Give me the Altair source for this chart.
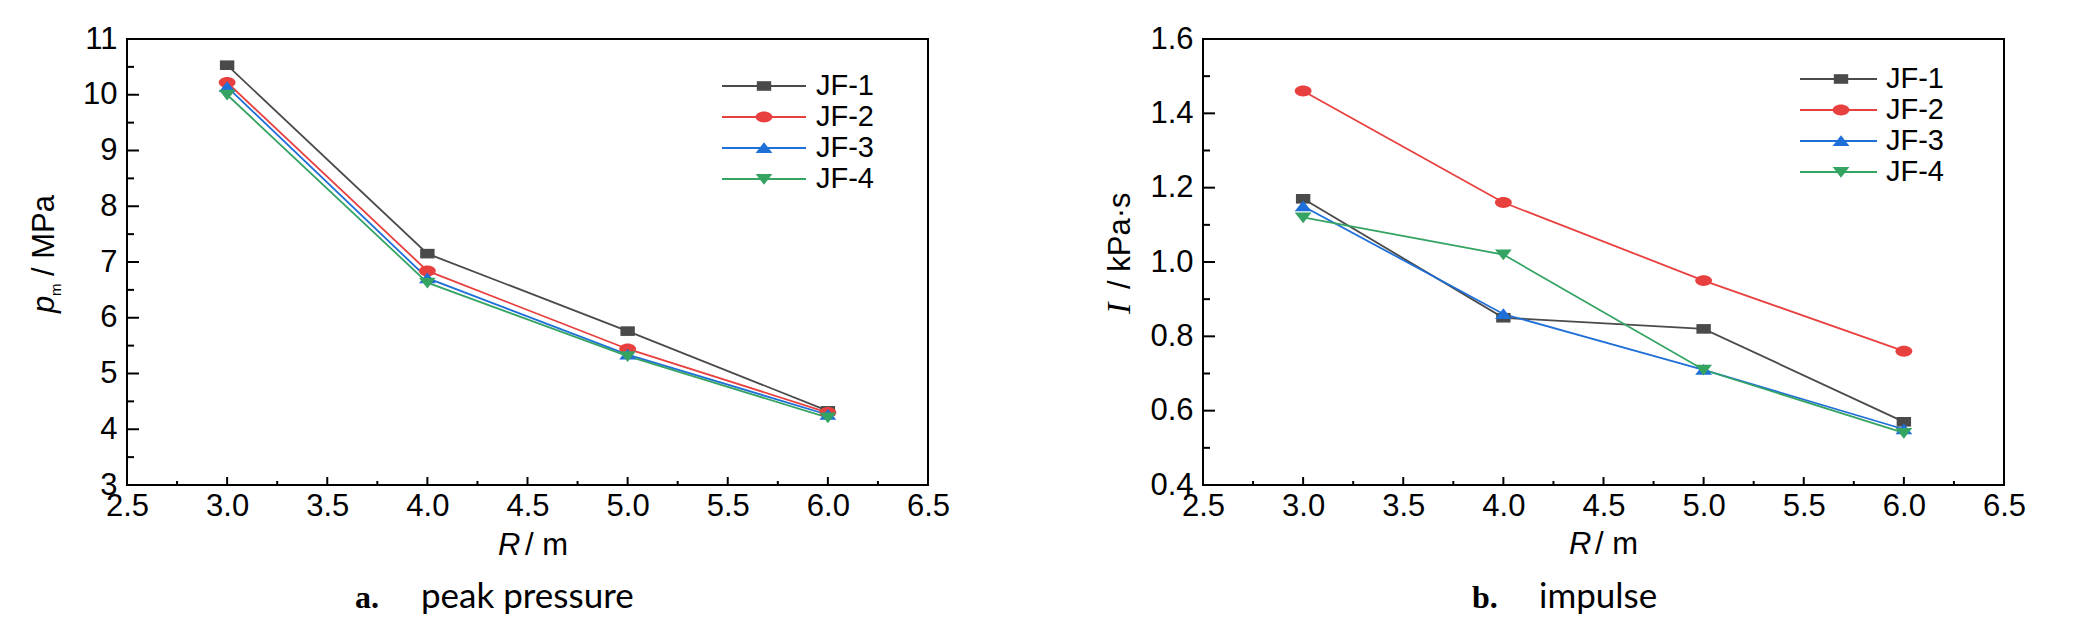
import json
import altair as alt
import pandas as pd

# ---------------- data ----------------
R_m = [3.0, 4.0, 5.0, 6.0]
series_names = ["JF-1", "JF-2", "JF-3", "JF-4"]

# peak pressure p_m / MPa
pm_jf1 = [10.53, 7.15, 5.76, 4.33]
pm_jf2 = [10.22, 6.84, 5.44, 4.30]
pm_jf3 = [10.14, 6.71, 5.34, 4.26]
pm_jf4 = [10.00, 6.63, 5.31, 4.21]

# impulse I / kPa·s
imp_jf1 = [1.17, 0.85, 0.82, 0.57]
imp_jf2 = [1.46, 1.16, 0.95, 0.76]
imp_jf3 = [1.15, 0.86, 0.71, 0.55]
imp_jf4 = [1.12, 1.02, 0.71, 0.54]

# tick labels
x_major = [2.5, 3.0, 3.5, 4.0, 4.5, 5.0, 5.5, 6.0, 6.5]
x_minor = [2.75, 3.25, 3.75, 4.25, 4.75, 5.25, 5.75, 6.25]
pm_major = [3, 4, 5, 6, 7, 8, 9, 10, 11]
pm_minor = [3.5, 4.5, 5.5, 6.5, 7.5, 8.5, 9.5, 10.5]
imp_major = [0.4, 0.6, 0.8, 1.0, 1.2, 1.4, 1.6]
imp_minor = [0.5, 0.7, 0.9, 1.1, 1.3, 1.5]

# ---------------- styles ----------------
colors = ["#4a4a4a", "#e8403f", "#1f6fd8", "#35a463"]
shapes = [
    "M-0.9,-0.6H0.9V0.6H-0.9Z",
    "M-1.05,0A1.05,0.68 0 1,1 1.05,0A1.05,0.68 0 1,1 -1.05,0Z",
    "M0,-0.72L1.05,0.62L-1.05,0.62Z",
    "M0,0.72L1.05,-0.62L-1.05,-0.62Z",
]
NARROW = "Liberation Sans Narrow, Arial Narrow, Liberation Sans, sans-serif"
W, H = 801, 446
MSIZE = 256

color_enc = alt.Color("series:N", scale=alt.Scale(domain=series_names, range=colors), legend=None)
shape_enc = alt.Shape("series:N", scale=alt.Scale(domain=series_names, range=shapes), legend=None)


def long_df(cols):
    rows = []
    for s, vals in zip(series_names, cols):
        for r, v in zip(R_m, vals):
            rows.append({"R": r, "v": v, "series": s})
    return pd.DataFrame(rows)


def txt(s, x, y, size=31, font=NARROW, style="normal", weight="normal", angle=0,
        align="left", baseline="alphabetic"):
    return alt.Chart(pd.DataFrame({"t": [s]})).mark_text(
        align=align, baseline=baseline, fontSize=size, font=font, fontStyle=style,
        fontWeight=weight, angle=angle, color="black"
    ).encode(x=alt.value(x), y=alt.value(y), text="t:N")


def panel(cols, ydom, ymaj, ymin, yfmt, leg_y0, leg_dy, leg_x, extra):
    df = long_df(cols)
    common = dict(title=None, ticks=False, tickSize=0, domain=False, grid=False,
                  labelOverlap=False, labelFlush=False, labelFontSize=31,
                  labelFont=NARROW, labelColor="black")
    X = alt.X("R:Q", scale=alt.Scale(domain=[2.5, 6.5], nice=False, zero=False),
              axis=alt.Axis(values=x_major, format=".1f", labelPadding=6, **common))
    Y = alt.Y("v:Q", scale=alt.Scale(domain=ydom, nice=False, zero=False),
              axis=alt.Axis(values=ymaj, format=yfmt, labelPadding=10, **common))

    ymaj_r = alt.Chart(pd.DataFrame({"v": ymaj})).mark_rule(color="black", strokeWidth=2).encode(
        y=Y, x=alt.value(0), x2=alt.value(12))
    ymin_r = alt.Chart(pd.DataFrame({"v": ymin})).mark_rule(color="black", strokeWidth=2).encode(
        y=Y, x=alt.value(0), x2=alt.value(7))
    xmaj_r = alt.Chart(pd.DataFrame({"R": x_major})).mark_rule(color="black", strokeWidth=2).encode(
        x=X, y=alt.value(H), y2=alt.value(H - 8))
    xmin_r = alt.Chart(pd.DataFrame({"R": x_minor})).mark_rule(color="black", strokeWidth=2).encode(
        x=X, y=alt.value(H), y2=alt.value(H - 4))

    lines = alt.Chart(df).mark_line(strokeWidth=1.8).encode(x=X, y=Y, color=color_enc)
    pts = alt.Chart(df).mark_point(filled=True, size=MSIZE, opacity=1).encode(
        x=X, y=Y, color=color_enc, shape=shape_enc)

    lx0, lx1, mx, tx = leg_x
    leg = alt.Chart(pd.DataFrame({"series": series_names})).transform_calculate(
        py=f"{leg_y0} + {leg_dy} * indexof({json.dumps(series_names)}, datum.series)")
    PY = alt.Y("py:Q", scale=None)
    leg_rule = leg.mark_rule(strokeWidth=1.8).encode(
        x=alt.value(lx0), x2=alt.value(lx1), y=PY, color=color_enc)
    leg_pt = leg.mark_point(filled=True, size=MSIZE, opacity=1).encode(
        x=alt.value(mx), y=PY, color=color_enc, shape=shape_enc)
    leg_tx = leg.mark_text(align="left", baseline="middle", fontSize=29, font=NARROW,
                           color="black").encode(x=alt.value(tx), y=PY, text="series:N")

    return alt.layer(ymaj_r, ymin_r, xmaj_r, xmin_r, lines, pts, leg_rule, leg_pt, leg_tx,
                     *extra).properties(width=W, height=H)


left_extra = [
    txt("p", -73, 274, style="italic", angle=270),
    txt("m", -66, 257, size=15, angle=270),
    txt("/ MPa", -73, 237, angle=270),
    txt("R", 371, 516, style="italic"),
    txt("/ m", 398, 516),
    txt("a.", 228, 569, size=32, font="Liberation Serif", weight="bold"),
    txt("peak pressure", 294, 569, size=35, font="Lato"),
]
right_extra = [
    txt("I", -73, 275, size=34, font="Liberation Serif", style="italic", angle=270),
    txt("/ kPa·s", -73, 250, angle=270),
    txt("R", 366, 515, style="italic"),
    txt("/ m", 392, 515),
    txt("b.", 269, 569, size=32, font="Liberation Serif", weight="bold"),
    txt("impulse", 336, 569, size=35, font="Lato"),
]

left = panel([pm_jf1, pm_jf2, pm_jf3, pm_jf4], [3, 11], pm_major, pm_minor, "d",
             47, 31, (595, 679, 637, 689), left_extra)
right = panel([imp_jf1, imp_jf2, imp_jf3, imp_jf4], [0.4, 1.6], imp_major, imp_minor, ".1f",
              40, 31, (597, 674, 638, 683), right_extra)

chart = alt.hconcat(left, right, spacing=151).properties(
    padding={"left": 20, "top": 14, "right": 5, "bottom": 5},
    background="white",
).configure_view(stroke="black", strokeWidth=2)

chart.save("out.html", embed_options={"renderer": "svg", "actions": False})
